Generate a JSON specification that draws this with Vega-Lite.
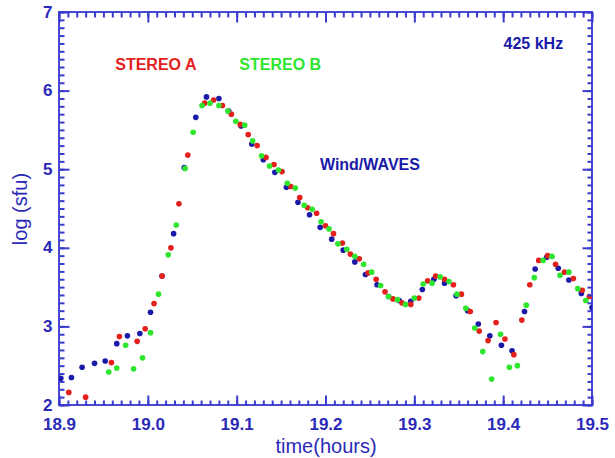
{
  "$schema": "https://vega.github.io/schema/vega-lite/v6.json",
  "width": 533,
  "height": 393,
  "autosize": "none",
  "padding": {"left": 59, "top": 12, "right": 23, "bottom": 53},
  "background": "white",
  "config": {
    "view": {"stroke": null},
    "axis": {
      "domain": false,
      "grid": false,
      "labelFont": "Liberation Sans",
      "labelFontSize": 17,
      "labelFontWeight": "bold",
      "labelColor": "#2a2ab8",
      "titleFont": "Liberation Sans",
      "titleFontSize": 20,
      "titleFontWeight": "normal",
      "titleColor": "#2a2ab8",
      "labelOverlap": false,
      "labelFlush": false
    }
  },
  "datasets": {
    "pts": [
      {"series": "Wind/WAVES", "t": 18.902, "v": 2.34},
      {"series": "Wind/WAVES", "t": 18.914, "v": 2.35},
      {"series": "Wind/WAVES", "t": 18.926, "v": 2.48},
      {"series": "Wind/WAVES", "t": 18.940, "v": 2.53},
      {"series": "Wind/WAVES", "t": 18.952, "v": 2.56},
      {"series": "Wind/WAVES", "t": 18.965, "v": 2.78},
      {"series": "Wind/WAVES", "t": 18.977, "v": 2.88},
      {"series": "Wind/WAVES", "t": 18.991, "v": 2.91},
      {"series": "Wind/WAVES", "t": 19.003, "v": 3.18},
      {"series": "Wind/WAVES", "t": 19.016, "v": 3.64},
      {"series": "Wind/WAVES", "t": 19.029, "v": 4.18},
      {"series": "Wind/WAVES", "t": 19.041, "v": 5.02},
      {"series": "Wind/WAVES", "t": 19.054, "v": 5.66},
      {"series": "Wind/WAVES", "t": 19.066, "v": 5.92},
      {"series": "Wind/WAVES", "t": 19.080, "v": 5.90},
      {"series": "Wind/WAVES", "t": 19.091, "v": 5.74},
      {"series": "Wind/WAVES", "t": 19.105, "v": 5.55},
      {"series": "Wind/WAVES", "t": 19.117, "v": 5.32},
      {"series": "Wind/WAVES", "t": 19.130, "v": 5.12},
      {"series": "Wind/WAVES", "t": 19.143, "v": 4.96},
      {"series": "Wind/WAVES", "t": 19.156, "v": 4.77},
      {"series": "Wind/WAVES", "t": 19.169, "v": 4.58},
      {"series": "Wind/WAVES", "t": 19.182, "v": 4.42},
      {"series": "Wind/WAVES", "t": 19.194, "v": 4.26},
      {"series": "Wind/WAVES", "t": 19.207, "v": 4.11},
      {"series": "Wind/WAVES", "t": 19.220, "v": 3.97},
      {"series": "Wind/WAVES", "t": 19.233, "v": 3.82},
      {"series": "Wind/WAVES", "t": 19.245, "v": 3.66},
      {"series": "Wind/WAVES", "t": 19.258, "v": 3.53},
      {"series": "Wind/WAVES", "t": 19.271, "v": 3.38},
      {"series": "Wind/WAVES", "t": 19.283, "v": 3.33},
      {"series": "Wind/WAVES", "t": 19.296, "v": 3.32},
      {"series": "Wind/WAVES", "t": 19.309, "v": 3.47},
      {"series": "Wind/WAVES", "t": 19.322, "v": 3.60},
      {"series": "Wind/WAVES", "t": 19.334, "v": 3.55},
      {"series": "Wind/WAVES", "t": 19.347, "v": 3.39},
      {"series": "Wind/WAVES", "t": 19.360, "v": 3.20},
      {"series": "Wind/WAVES", "t": 19.372, "v": 3.03},
      {"series": "Wind/WAVES", "t": 19.385, "v": 2.88},
      {"series": "Wind/WAVES", "t": 19.398, "v": 2.76},
      {"series": "Wind/WAVES", "t": 19.410, "v": 2.69},
      {"series": "Wind/WAVES", "t": 19.424, "v": 3.19},
      {"series": "Wind/WAVES", "t": 19.436, "v": 3.73},
      {"series": "Wind/WAVES", "t": 19.449, "v": 3.88},
      {"series": "Wind/WAVES", "t": 19.462, "v": 3.74},
      {"series": "Wind/WAVES", "t": 19.474, "v": 3.59},
      {"series": "Wind/WAVES", "t": 19.488, "v": 3.42},
      {"series": "Wind/WAVES", "t": 19.500, "v": 3.24},
      {"series": "STEREO A", "t": 18.911, "v": 2.16},
      {"series": "STEREO A", "t": 18.930, "v": 2.10},
      {"series": "STEREO A", "t": 18.959, "v": 2.54},
      {"series": "STEREO A", "t": 18.968, "v": 2.87},
      {"series": "STEREO A", "t": 18.988, "v": 2.81},
      {"series": "STEREO A", "t": 18.997, "v": 2.97},
      {"series": "STEREO A", "t": 19.007, "v": 3.29},
      {"series": "STEREO A", "t": 19.016, "v": 3.64},
      {"series": "STEREO A", "t": 19.026, "v": 4.00},
      {"series": "STEREO A", "t": 19.035, "v": 4.56},
      {"series": "STEREO A", "t": 19.045, "v": 5.18},
      {"series": "STEREO A", "t": 19.064, "v": 5.84},
      {"series": "STEREO A", "t": 19.074, "v": 5.88},
      {"series": "STEREO A", "t": 19.084, "v": 5.81},
      {"series": "STEREO A", "t": 19.094, "v": 5.70},
      {"series": "STEREO A", "t": 19.104, "v": 5.57},
      {"series": "STEREO A", "t": 19.113, "v": 5.44},
      {"series": "STEREO A", "t": 19.123, "v": 5.30},
      {"series": "STEREO A", "t": 19.133, "v": 5.15},
      {"series": "STEREO A", "t": 19.142, "v": 5.06},
      {"series": "STEREO A", "t": 19.151, "v": 4.97},
      {"series": "STEREO A", "t": 19.161, "v": 4.78},
      {"series": "STEREO A", "t": 19.171, "v": 4.64},
      {"series": "STEREO A", "t": 19.180, "v": 4.51},
      {"series": "STEREO A", "t": 19.190, "v": 4.44},
      {"series": "STEREO A", "t": 19.200, "v": 4.28},
      {"series": "STEREO A", "t": 19.209, "v": 4.18},
      {"series": "STEREO A", "t": 19.219, "v": 4.06},
      {"series": "STEREO A", "t": 19.228, "v": 3.92},
      {"series": "STEREO A", "t": 19.238, "v": 3.86},
      {"series": "STEREO A", "t": 19.248, "v": 3.68},
      {"series": "STEREO A", "t": 19.257, "v": 3.60},
      {"series": "STEREO A", "t": 19.267, "v": 3.44},
      {"series": "STEREO A", "t": 19.276, "v": 3.35},
      {"series": "STEREO A", "t": 19.286, "v": 3.30},
      {"series": "STEREO A", "t": 19.296, "v": 3.28},
      {"series": "STEREO A", "t": 19.305, "v": 3.36},
      {"series": "STEREO A", "t": 19.315, "v": 3.58},
      {"series": "STEREO A", "t": 19.324, "v": 3.64},
      {"series": "STEREO A", "t": 19.334, "v": 3.60},
      {"series": "STEREO A", "t": 19.344, "v": 3.53},
      {"series": "STEREO A", "t": 19.353, "v": 3.41},
      {"series": "STEREO A", "t": 19.363, "v": 3.19},
      {"series": "STEREO A", "t": 19.373, "v": 2.94},
      {"series": "STEREO A", "t": 19.383, "v": 2.82},
      {"series": "STEREO A", "t": 19.392, "v": 3.05},
      {"series": "STEREO A", "t": 19.402, "v": 2.84},
      {"series": "STEREO A", "t": 19.412, "v": 2.64},
      {"series": "STEREO A", "t": 19.421, "v": 3.08},
      {"series": "STEREO A", "t": 19.430, "v": 3.53},
      {"series": "STEREO A", "t": 19.440, "v": 3.84},
      {"series": "STEREO A", "t": 19.450, "v": 3.90},
      {"series": "STEREO A", "t": 19.459, "v": 3.79},
      {"series": "STEREO A", "t": 19.469, "v": 3.69},
      {"series": "STEREO A", "t": 19.479, "v": 3.61},
      {"series": "STEREO A", "t": 19.489, "v": 3.46},
      {"series": "STEREO A", "t": 19.497, "v": 3.38},
      {"series": "STEREO B", "t": 18.956, "v": 2.42},
      {"series": "STEREO B", "t": 18.965, "v": 2.47},
      {"series": "STEREO B", "t": 18.975, "v": 2.76},
      {"series": "STEREO B", "t": 18.984, "v": 2.46},
      {"series": "STEREO B", "t": 18.994, "v": 2.60},
      {"series": "STEREO B", "t": 19.003, "v": 2.92},
      {"series": "STEREO B", "t": 19.012, "v": 3.41},
      {"series": "STEREO B", "t": 19.023, "v": 3.91},
      {"series": "STEREO B", "t": 19.032, "v": 4.29},
      {"series": "STEREO B", "t": 19.042, "v": 5.01},
      {"series": "STEREO B", "t": 19.051, "v": 5.47},
      {"series": "STEREO B", "t": 19.061, "v": 5.81},
      {"series": "STEREO B", "t": 19.070, "v": 5.84},
      {"series": "STEREO B", "t": 19.080, "v": 5.81},
      {"series": "STEREO B", "t": 19.090, "v": 5.74},
      {"series": "STEREO B", "t": 19.099, "v": 5.61},
      {"series": "STEREO B", "t": 19.109, "v": 5.56},
      {"series": "STEREO B", "t": 19.118, "v": 5.36},
      {"series": "STEREO B", "t": 19.128, "v": 5.17},
      {"series": "STEREO B", "t": 19.137, "v": 5.04},
      {"series": "STEREO B", "t": 19.147, "v": 4.99},
      {"series": "STEREO B", "t": 19.157, "v": 4.82},
      {"series": "STEREO B", "t": 19.166, "v": 4.76},
      {"series": "STEREO B", "t": 19.176, "v": 4.54},
      {"series": "STEREO B", "t": 19.185, "v": 4.49},
      {"series": "STEREO B", "t": 19.195, "v": 4.33},
      {"series": "STEREO B", "t": 19.204, "v": 4.24},
      {"series": "STEREO B", "t": 19.214, "v": 4.05},
      {"series": "STEREO B", "t": 19.224, "v": 3.98},
      {"series": "STEREO B", "t": 19.233, "v": 3.89},
      {"series": "STEREO B", "t": 19.243, "v": 3.79},
      {"series": "STEREO B", "t": 19.252, "v": 3.69},
      {"series": "STEREO B", "t": 19.262, "v": 3.52},
      {"series": "STEREO B", "t": 19.271, "v": 3.38},
      {"series": "STEREO B", "t": 19.281, "v": 3.34},
      {"series": "STEREO B", "t": 19.290, "v": 3.28},
      {"series": "STEREO B", "t": 19.300, "v": 3.36},
      {"series": "STEREO B", "t": 19.310, "v": 3.54},
      {"series": "STEREO B", "t": 19.320, "v": 3.55},
      {"series": "STEREO B", "t": 19.329, "v": 3.63},
      {"series": "STEREO B", "t": 19.339, "v": 3.57},
      {"series": "STEREO B", "t": 19.348, "v": 3.41},
      {"series": "STEREO B", "t": 19.358, "v": 3.23},
      {"series": "STEREO B", "t": 19.368, "v": 2.98},
      {"series": "STEREO B", "t": 19.377, "v": 2.68},
      {"series": "STEREO B", "t": 19.387, "v": 2.33},
      {"series": "STEREO B", "t": 19.397, "v": 2.90},
      {"series": "STEREO B", "t": 19.407, "v": 2.48},
      {"series": "STEREO B", "t": 19.416, "v": 2.50},
      {"series": "STEREO B", "t": 19.426, "v": 3.27},
      {"series": "STEREO B", "t": 19.435, "v": 3.62},
      {"series": "STEREO B", "t": 19.445, "v": 3.84},
      {"series": "STEREO B", "t": 19.455, "v": 3.89},
      {"series": "STEREO B", "t": 19.464, "v": 3.65},
      {"series": "STEREO B", "t": 19.474, "v": 3.69},
      {"series": "STEREO B", "t": 19.484, "v": 3.48},
      {"series": "STEREO B", "t": 19.493, "v": 3.33}
    ],
    "labels": [
      {"label": "425 kHz", "series": "Wind/WAVES", "t": 19.434, "v": 6.59},
      {"label": "STEREO A", "series": "STEREO A", "t": 19.009, "v": 6.33},
      {"label": "STEREO B", "series": "STEREO B", "t": 19.149, "v": 6.33},
      {"label": "Wind/WAVES", "series": "Wind/WAVES", "t": 19.25, "v": 5.05}
    ],
    "frame": [{"t0": 18.9, "t1": 19.5, "v0": 2, "v1": 7}]
  },
  "layer": [
    {
      "data": {"name": "frame"},
      "mark": {"type": "rect", "fill": null, "stroke": "#4848d0", "strokeWidth": 2},
      "encoding": {
        "x": {"field": "t0", "type": "quantitative", "scale": {"domain": [18.9, 19.5], "nice": false, "zero": false}, "axis": null},
        "x2": {"field": "t1"},
        "y": {"field": "v0", "type": "quantitative", "scale": {"domain": [2, 7], "nice": false, "zero": false}, "axis": null},
        "y2": {"field": "v1"}
      }
    },
    {
      "data": {"name": "pts"},
      "mark": {"type": "point", "filled": true, "opacity": 1, "size": 32, "clip": true},
      "encoding": {
        "x": {
          "field": "t", "type": "quantitative",
          "axis": {
            "orient": "bottom", "title": "time(hours)", "titlePadding": 4,
            "values": [18.9, 19.0, 19.1, 19.2, 19.3, 19.4, 19.5],
            "format": ".1f", "offset": -10, "tickSize": 10, "labelPadding": 11,
            "ticks": true, "tickColor": "#3b3bd0", "tickWidth": 2, "tickRound": false, "zindex": 2
          }
        },
        "y": {
          "field": "v", "type": "quantitative",
          "axis": {
            "orient": "left", "title": "log (sfu)", "titlePadding": 12,
            "values": [2, 3, 4, 5, 6, 7],
            "format": "d", "offset": -10, "tickSize": 10, "labelPadding": 7,
            "ticks": true, "tickColor": "#3b3bd0", "tickWidth": 2, "tickRound": false, "zindex": 2
          }
        },
        "color": {
          "field": "series", "type": "nominal",
          "scale": {"domain": ["Wind/WAVES", "STEREO A", "STEREO B"], "range": ["#1a1aa8", "#e3201c", "#2ee62e"]},
          "legend": null
        }
      }
    },
    {
      "data": {"name": "pts"},
      "mark": {"type": "point", "opacity": 0},
      "encoding": {
        "x": {
          "field": "t", "type": "quantitative",
          "axis": {
            "orient": "bottom", "title": null, "labels": false,
            "values": [18.9,18.91,18.92,18.93,18.94,18.95,18.96,18.97,18.98,18.99,19.0,19.01,19.02,19.03,19.04,19.05,19.06,19.07,19.08,19.09,19.1,19.11,19.12,19.13,19.14,19.15,19.16,19.17,19.18,19.19,19.2,19.21,19.22,19.23,19.24,19.25,19.26,19.27,19.28,19.29,19.3,19.31,19.32,19.33,19.34,19.35,19.36,19.37,19.38,19.39,19.4,19.41,19.42,19.43,19.44,19.45,19.46,19.47,19.48,19.49,19.5],
            "offset": -5, "tickSize": 5, "ticks": true, "tickColor": "#3b3bd0", "tickWidth": 2, "tickRound": false, "zindex": 2
          }
        },
        "y": {
          "field": "v", "type": "quantitative",
          "axis": {
            "orient": "left", "title": null, "labels": false,
            "values": [2,2.1,2.2,2.3,2.4,2.5,2.6,2.7,2.8,2.9,3,3.1,3.2,3.3,3.4,3.5,3.6,3.7,3.8,3.9,4,4.1,4.2,4.3,4.4,4.5,4.6,4.7,4.8,4.9,5,5.1,5.2,5.3,5.4,5.5,5.6,5.7,5.8,5.9,6,6.1,6.2,6.3,6.4,6.5,6.6,6.7,6.8,6.9,7],
            "offset": -5, "tickSize": 5, "ticks": true, "tickColor": "#3b3bd0", "tickWidth": 2, "tickRound": false, "zindex": 2
          }
        }
      }
    },
    {
      "data": {"name": "pts"},
      "mark": {"type": "point", "opacity": 0},
      "encoding": {
        "x": {
          "field": "t", "type": "quantitative",
          "axis": {
            "orient": "top", "title": null, "labels": false,
            "values": [18.9, 19.0, 19.1, 19.2, 19.3, 19.4, 19.5],
            "offset": -10, "tickSize": 10, "ticks": true, "tickColor": "#3b3bd0", "tickWidth": 2, "tickRound": false, "zindex": 2
          }
        },
        "y": {
          "field": "v", "type": "quantitative",
          "axis": {
            "orient": "right", "title": null, "labels": false,
            "values": [2, 3, 4, 5, 6, 7],
            "offset": -10, "tickSize": 10, "ticks": true, "tickColor": "#3b3bd0", "tickWidth": 2, "tickRound": false, "zindex": 2
          }
        }
      }
    },
    {
      "data": {"name": "pts"},
      "mark": {"type": "point", "opacity": 0},
      "encoding": {
        "x": {
          "field": "t", "type": "quantitative",
          "axis": {
            "orient": "top", "title": null, "labels": false,
            "values": [18.9,18.91,18.92,18.93,18.94,18.95,18.96,18.97,18.98,18.99,19.0,19.01,19.02,19.03,19.04,19.05,19.06,19.07,19.08,19.09,19.1,19.11,19.12,19.13,19.14,19.15,19.16,19.17,19.18,19.19,19.2,19.21,19.22,19.23,19.24,19.25,19.26,19.27,19.28,19.29,19.3,19.31,19.32,19.33,19.34,19.35,19.36,19.37,19.38,19.39,19.4,19.41,19.42,19.43,19.44,19.45,19.46,19.47,19.48,19.49,19.5],
            "offset": -5, "tickSize": 5, "ticks": true, "tickColor": "#3b3bd0", "tickWidth": 2, "tickRound": false, "zindex": 2
          }
        },
        "y": {
          "field": "v", "type": "quantitative",
          "axis": {
            "orient": "right", "title": null, "labels": false,
            "values": [2,2.1,2.2,2.3,2.4,2.5,2.6,2.7,2.8,2.9,3,3.1,3.2,3.3,3.4,3.5,3.6,3.7,3.8,3.9,4,4.1,4.2,4.3,4.4,4.5,4.6,4.7,4.8,4.9,5,5.1,5.2,5.3,5.4,5.5,5.6,5.7,5.8,5.9,6,6.1,6.2,6.3,6.4,6.5,6.6,6.7,6.8,6.9,7],
            "offset": -5, "tickSize": 5, "ticks": true, "tickColor": "#3b3bd0", "tickWidth": 2, "tickRound": false, "zindex": 2
          }
        }
      }
    },
    {
      "data": {"name": "labels"},
      "mark": {"type": "text", "font": "Liberation Sans", "fontSize": 16, "fontWeight": "bold", "align": "center", "baseline": "middle"},
      "encoding": {
        "x": {"field": "t", "type": "quantitative", "axis": null},
        "y": {"field": "v", "type": "quantitative", "axis": null},
        "text": {"field": "label"},
        "color": {"field": "series", "type": "nominal", "legend": null}
      }
    }
  ],
  "resolve": {"axis": {"x": "independent", "y": "independent"}}
}
